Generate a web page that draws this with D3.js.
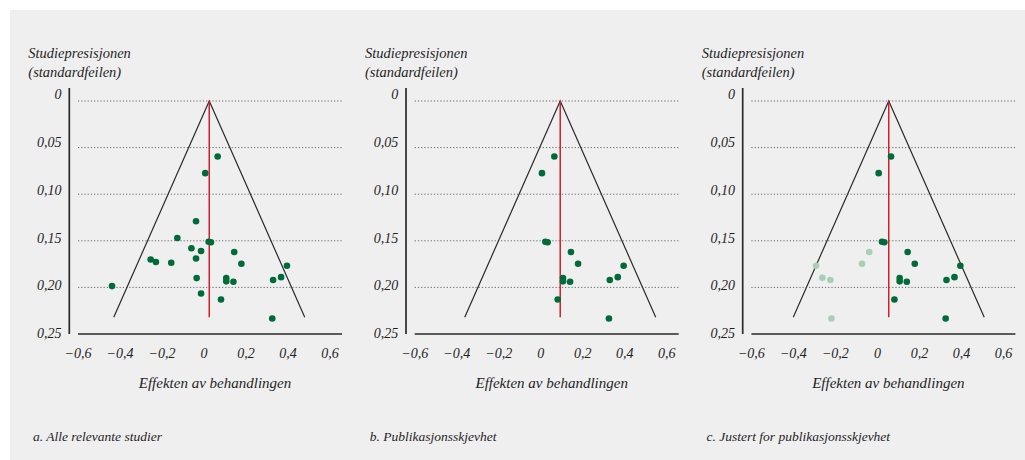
<!DOCTYPE html>
<html><head><meta charset="utf-8">
<script src="https://cdn.jsdelivr.net/npm/d3@7/dist/d3.min.js"></script>
<style>
html,body{margin:0;padding:0;background:#fff;}
svg text{font-family:"Liberation Serif",serif;font-style:italic;fill:#1f1f1f;}
</style></head>
<body><svg id="chart" width="1025" height="460"></svg>
<script>
// ---- data ----
const studyEffect = [0.065,0.006,-0.038,-0.127,0.022,0.033,-0.060,-0.014,0.144,-0.254,-0.229,-0.038,-0.156,0.178,0.395,-0.035,0.106,0.106,0.140,0.329,0.367,-0.438,-0.014,0.081,0.325];
const studyStdErr = [0.0595,0.0774,0.129,0.147,0.151,0.1516,0.158,0.161,0.162,0.170,0.1728,0.169,0.1735,0.1746,0.1767,0.190,0.190,0.1935,0.194,0.192,0.189,0.1986,0.2065,0.213,0.2333];
const published   = [1,1,0,0,1,1,0,0,1,0,0,0,0,1,1,0,1,1,1,1,1,0,0,1,1];
const imputedEffect = [-0.039,-0.073,-0.292,-0.262,-0.224,-0.219];
const imputedStdErr = [0.162,0.1746,0.1767,0.1896,0.192,0.2333];
const pooledEstimate = [0.025, 0.093, 0.054];
const funnelMaxSE = 0.232;
const zValue = 1.96;
const xTicks = [-0.6,-0.4,-0.2,0,0.2,0.4,0.6];
const yTicks = [0,0.05,0.10,0.15,0.20,0.25];
const captions = ["a. Alle relevante studier","b. Publikasjonsskjevhet","c. Justert for publikasjonsskjevhet"];
const yTitle = ["Studiepresisjonen","(standardfeilen)"];
const xTitle = "Effekten av behandlingen";

const svg = d3.select("#chart");
svg.append("rect").attr("x",10).attr("y",10).attr("width",1015).attr("height",450).attr("fill","#efefef");

const fmtX = v => v === 0 ? "0" : (v < 0 ? "\u2212" : "") + Math.abs(v).toFixed(1).replace(".", ",");
const fmtY = v => v === 0 ? "0" : v.toFixed(2).replace(".", ",");

const panelStep = 336.7;
const darkGreen = "#006b3a", lightGreen = "#a9cfb6", red = "#d2202b", ink = "#2a2a2a";

for (let p = 0; p < 3; p++) {
  const ox = p * panelStep;
  const g = svg.append("g").attr("transform", `translate(${ox},0)`);
  const x = d3.scaleLinear().domain([-0.6, 0.6]).range([78, 330]);
  const y = d3.scaleLinear().domain([0, 0.25]).range([101, 334]);

  // gridlines (dotted)
  g.selectAll("line.grid").data(yTicks.slice(0, -1)).join("line")
    .attr("x1", 78).attr("x2", 342).attr("y1", d => y(d)).attr("y2", d => y(d))
    .attr("stroke", "#666").attr("stroke-width", 1).attr("stroke-dasharray", "1.2,2");

  // y axis line
  g.append("line").attr("x1", 69.3).attr("x2", 69.3).attr("y1", 88).attr("y2", 334)
    .attr("stroke", ink).attr("stroke-width", 1.7);
  // x axis line
  g.append("line").attr("x1", 78).attr("x2", 342).attr("y1", 334).attr("y2", 334)
    .attr("stroke", ink).attr("stroke-width", 1.7);

  // y tick labels
  g.selectAll("text.yt").data(yTicks).join("text")
    .attr("x", 61.5).attr("y", d => y(d) - 6.5 + d * 22)
    .attr("dy", "0.35em").attr("text-anchor", "end").attr("font-size", 14)
    .text(fmtY);
  // x tick labels
  g.selectAll("text.xt").data(xTicks).join("text")
    .attr("x", d => x(d)).attr("y", 352.7).attr("dy", "0.35em")
    .attr("text-anchor", "middle").attr("font-size", 14).text(fmtX);

  // titles
  g.selectAll("text.yti").data(yTitle).join("text")
    .attr("x", 28.3).attr("y", (d, i) => 53 + i * 18.7).attr("dy", "0.35em")
    .attr("font-size", 14.5).text(d => d);
  g.append("text").attr("x", 215).attr("y", 383).attr("dy", "0.35em")
    .attr("text-anchor", "middle").attr("font-size", 15).text(xTitle);
  g.append("text").attr("x", 33).attr("y", 436).attr("dy", "0.35em")
    .attr("font-size", 13.5).text(captions[p]);

  // funnel
  const c = pooledEstimate[p];
  const funnel = [[c - zValue * funnelMaxSE, funnelMaxSE], [c, 0], [c + zValue * funnelMaxSE, funnelMaxSE]];
  g.append("path").attr("d", d3.line().x(d => x(d[0])).y(d => y(d[1]))(funnel))
    .attr("fill", "none").attr("stroke", ink).attr("stroke-width", 1.2);
  g.append("line").attr("x1", x(c)).attr("x2", x(c)).attr("y1", y(0)).attr("y2", y(funnelMaxSE))
    .attr("stroke", red).attr("stroke-width", 1.5);

  // points
  let pts = studyEffect.map((e, i) => ({ e, s: studyStdErr[i], pub: published[i] }));
  if (p > 0) pts = pts.filter(d => d.pub);
  if (p === 2) {
    g.selectAll("circle.imp").data(imputedEffect.map((e, i) => ({ e, s: imputedStdErr[i] }))).join("circle")
      .attr("cx", d => x(d.e)).attr("cy", d => y(d.s)).attr("r", 3.3).attr("fill", lightGreen);
  }
  g.selectAll("circle.pt").data(pts).join("circle")
    .attr("cx", d => x(d.e)).attr("cy", d => y(d.s)).attr("r", 3.3).attr("fill", darkGreen);
}
</script></body></html>
